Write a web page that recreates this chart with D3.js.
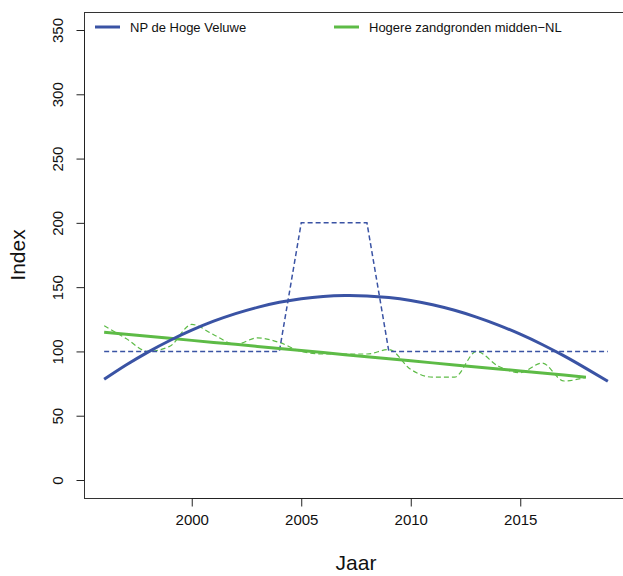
<!DOCTYPE html>
<html>
<head>
<meta charset="utf-8">
<script src="https://cdn.jsdelivr.net/npm/d3@7"></script>
<style>
  body { margin: 0; background: #fff; }
  svg { display: block; font-family: "Liberation Sans", Arial, Helvetica, sans-serif; }
</style>
</head>
<body>
<div id="chart"></div>
<script>
// data
const years = d3.range(1996, 2020);
const veluweIndex = [100,100,100,100,100,100,100,100,100,200,200,200,200,100,100,100,100,100,100,100,100,100,100,100];
const veluweTrend = [78.3,89.4,99.5,108.5,116.5,123.5,129.4,134.3,138.2,141,142.8,143.5,143.2,141.9,139.6,136.3,132,126.7,120.5,113.4,105.4,96.5,86.8,76.8];
const zandYears = d3.range(1996, 2019);
const zandIndex = [120,110,100,104,121,113,105.5,110.5,107,100,98,98,98,101.5,86,80,80,100,88.5,83.5,91,77,80];
const zandTrend = [115,113.4,111.8,110.2,108.6,107,105.5,103.9,102.3,100.7,99.1,97.5,95.9,94.3,92.7,91.1,89.5,87.9,86.4,84.8,83.2,81.6,80];
const yTicks = [0, 50, 100, 150, 200, 250, 300, 350];
const xTicks = [2000, 2005, 2010, 2015];

const blue = "#3a53a4";
const green = "#5dbb46";

const W = 623, H = 576;
const mLeft = 84, mTop = 12, mRight = 628, mBottom = 498;

const svg = d3.select("#chart").append("svg")
    .attr("width", W)
    .attr("height", H);

const x = d3.scaleLinear().domain([1995.08, 2019.92]).range([mLeft, mRight]);
const y = d3.scaleLinear().domain([-14, 364]).range([mBottom, mTop]);

// box
svg.append("rect")
    .attr("x", mLeft + 0.5).attr("y", mTop + 0.5)
    .attr("width", mRight - mLeft).attr("height", mBottom - mTop)
    .attr("fill", "none").attr("stroke", "#333").attr("stroke-width", 1);

// x axis
const xa = svg.append("g")
    .attr("transform", `translate(0,${mBottom + 0.5})`)
    .call(d3.axisBottom(x).tickValues(xTicks).tickFormat(d3.format("d")).tickSize(8).tickPadding(8));
xa.select(".domain").attr("d", `M${x(2000)},0H${x(2015)}`).attr("stroke", "#222");
xa.selectAll(".tick line").attr("stroke", "#222");
xa.selectAll("text").style("font-size", "15px").attr("fill", "#111")
    .attr("font-family", "Liberation Sans, Arial, sans-serif");

// y axis
const ya = svg.append("g")
    .attr("transform", `translate(${mLeft + 0.5},0)`)
    .call(d3.axisLeft(y).tickValues(yTicks).tickSize(8).tickPadding(0));
ya.select(".domain").attr("d", `M0,${y(0)}V${y(350)}`).attr("stroke", "#222");
ya.selectAll(".tick line").attr("stroke", "#222");
ya.selectAll("text")
    .style("font-size", "15px").attr("fill", "#111")
    .attr("font-family", "Liberation Sans, Arial, sans-serif")
    .attr("text-anchor", "middle")
    .attr("x", null).attr("dy", null)
    .attr("transform", "translate(-22,0) rotate(-90)");

// axis titles
svg.append("text")
    .attr("x", (mLeft + mRight) / 2).attr("y", 570)
    .attr("text-anchor", "middle")
    .style("font-size", "21px").attr("fill", "#111")
    .text("Jaar");
svg.append("text")
    .attr("transform", `translate(25,${(mTop + mBottom) / 2}) rotate(-90)`)
    .attr("text-anchor", "middle")
    .style("font-size", "21px").attr("fill", "#111")
    .text("Index");

// lines
svg.append("clipPath").attr("id", "clip")
    .append("rect").attr("x", mLeft).attr("y", mTop).attr("width", mRight - mLeft).attr("height", mBottom - mTop);
const plot = svg.append("g").attr("clip-path", "url(#clip)");

const lineLin = d3.line().x(d => x(d[0])).y(d => y(d[1]));
const lineSmooth = d3.line().x(d => x(d[0])).y(d => y(d[1])).curve(d3.curveMonotoneX);
const lineNat = d3.line().x(d => x(d[0])).y(d => y(d[1])).curve(d3.curveNatural);

plot.append("path")
    .datum(zandYears.map((yr, i) => [yr, zandIndex[i]]))
    .attr("d", lineSmooth)
    .attr("fill", "none").attr("stroke", green).attr("stroke-width", 1.2)
    .attr("stroke-dasharray", "5,3");

plot.append("path")
    .datum(years.map((yr, i) => [yr, veluweIndex[i]]))
    .attr("d", lineLin)
    .attr("fill", "none").attr("stroke", blue).attr("stroke-width", 1.5)
    .attr("stroke-dasharray", "5,3");

plot.append("path")
    .datum(zandYears.map((yr, i) => [yr, zandTrend[i]]))
    .attr("d", lineLin)
    .attr("fill", "none").attr("stroke", green).attr("stroke-width", 3);

plot.append("path")
    .datum(years.map((yr, i) => [yr, veluweTrend[i]]))
    .attr("d", lineNat)
    .attr("fill", "none").attr("stroke", blue).attr("stroke-width", 3);

// legend
const legend = [
    { name: "NP de Hoge Veluwe", color: blue, x: 95 },
    { name: "Hogere zandgronden midden\u2212NL", color: green, x: 334 }
];
const lg = svg.append("g").selectAll("g").data(legend).join("g")
    .attr("transform", d => `translate(${d.x},27)`);
lg.append("line").attr("x1", 0).attr("x2", 25)
    .attr("stroke", d => d.color).attr("stroke-width", 3);
lg.append("text").attr("x", 35).attr("dy", "0.35em")
    .style("font-size", "13px").attr("fill", "#111")
    .text(d => d.name);
</script>
</body>
</html>
